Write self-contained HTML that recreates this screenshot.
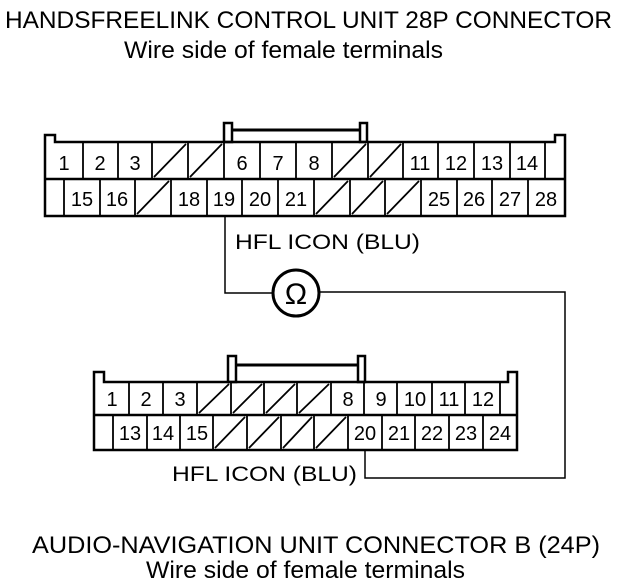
<!DOCTYPE html>
<html><head><meta charset="utf-8"><style>
html,body{margin:0;padding:0;background:#fff;}
svg{display:block;}
text{font-family:"Liberation Sans",Arial,sans-serif;fill:#000;}
</style></head><body>
<svg width="640" height="586" viewBox="0 0 640 586" xmlns="http://www.w3.org/2000/svg">
<g font-size="24">
<text x="5" y="28" textLength="607" lengthAdjust="spacingAndGlyphs">HANDSFREELINK CONTROL UNIT 28P CONNECTOR</text>
<text x="124" y="58" textLength="319" lengthAdjust="spacingAndGlyphs">Wire side of female terminals</text>
<text x="32" y="553" textLength="568" lengthAdjust="spacingAndGlyphs">AUDIO-NAVIGATION UNIT CONNECTOR B (24P)</text>
<text x="146" y="578" textLength="319" lengthAdjust="spacingAndGlyphs">Wire side of female terminals</text>
</g>

<g fill="none" stroke="#000" stroke-width="2.5">
<path d="M45,216 L45,135 L55,135 L55,142 L555,142 L555,135 L565,135 L565,216 Z"/>
<rect x="224" y="123" width="8" height="19"/>
<rect x="360" y="123" width="7" height="19"/>
<line x1="232" y1="130" x2="360" y2="130" stroke-width="3"/>
<line x1="45" y1="179" x2="565" y2="179"/>
<path d="M94,450 L94,372 L104,372 L104,382 L508,382 L508,372 L517,372 L517,450 Z"/>
<rect x="228" y="356" width="8" height="26"/>
<rect x="358" y="356" width="7" height="26"/>
<line x1="236" y1="365" x2="358" y2="365" stroke-width="3"/>
<line x1="94" y1="415" x2="517" y2="415"/>
</g>
<g stroke="#000" stroke-width="1.8">
<path d="M83,142V179M118,142V179M152,142V179M188,142V179M224,142V179M260,142V179M296,142V179M332,142V179M368,142V179M403,142V179M438,142V179M474,142V179M510,142V179M545,142V179"/>
<path d="M64,179V216M100,179V216M135,179V216M171,179V216M207,179V216M242,179V216M278,179V216M314,179V216M350,179V216M385,179V216M421,179V216M457,179V216M492,179V216M528,179V216"/>
<path d="M154,177L186,144M190,177L222,144M334,177L366,144M370,177L401,144"/>
<path d="M137,214L169,181M316,214L348,181M352,214L383,181M387,214L419,181"/>
<path d="M129,382V415M163,382V415M197,382V415M231,382V415M264,382V415M297,382V415M331,382V415M364,382V415M397,382V415M432,382V415M465,382V415M500,382V415"/>
<path d="M113,415V450M147,415V450M180,415V450M213,415V450M247,415V450M281,415V450M314,415V450M348,415V450M382,415V450M415,415V450M449,415V450M483,415V450"/>
<path d="M199,413L229,384M233,413L262,384M266,413L295,384M299,413L329,384"/>
<path d="M215,448L245,417M249,448L279,417M283,448L312,417M316,448L346,417"/>
</g>
<g stroke="#000" stroke-width="1.5" fill="none">
<path d="M225,216V293H272"/>
<path d="M320,292H565V478H365V450"/>
</g>
<circle cx="296" cy="293" r="23" fill="none" stroke="#000" stroke-width="3"/>
<text x="296" y="304" font-size="30" text-anchor="middle">Ω</text>

<g font-size="20" text-anchor="middle">
<text x="64" y="170">1</text><text x="100" y="170">2</text><text x="135" y="170">3</text>
<text x="242" y="170">6</text><text x="278" y="170">7</text><text x="314" y="170">8</text>
<text x="420" y="170">11</text><text x="456" y="170">12</text><text x="492" y="170">13</text><text x="527" y="170">14</text>
<text x="82" y="206">15</text><text x="117" y="206">16</text><text x="189" y="206">18</text><text x="224" y="206">19</text>
<text x="260" y="206">20</text><text x="296" y="206">21</text><text x="439" y="206">25</text><text x="474" y="206">26</text>
<text x="510" y="206">27</text><text x="546" y="206">28</text>

<text x="112" y="406">1</text><text x="146" y="406">2</text><text x="180" y="406">3</text>
<text x="348" y="406">8</text><text x="381" y="406">9</text><text x="415" y="406">10</text><text x="449" y="406">11</text><text x="483" y="406">12</text>
<text x="130" y="440">13</text><text x="163" y="440">14</text><text x="197" y="440">15</text>
<text x="365" y="440">20</text><text x="399" y="440">21</text><text x="432" y="440">22</text><text x="466" y="440">23</text><text x="500" y="440">24</text>
</g>
<g font-size="21">
<text x="235" y="249" textLength="185" lengthAdjust="spacingAndGlyphs">HFL ICON (BLU)</text>
<text x="172" y="481" textLength="185" lengthAdjust="spacingAndGlyphs">HFL ICON (BLU)</text>
</g>
</svg>
</body></html>
